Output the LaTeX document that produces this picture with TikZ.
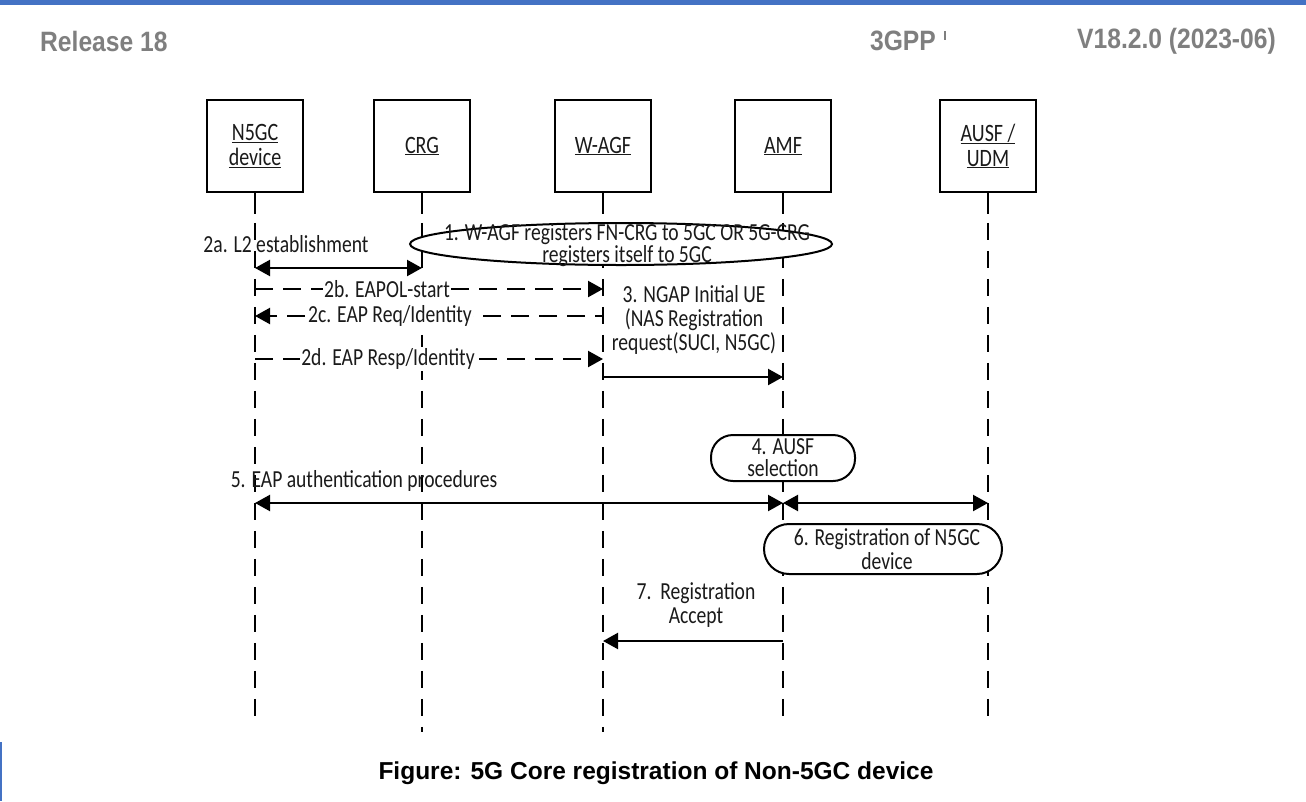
\documentclass[tikz,border=0pt]{standalone}
\usepackage{fontspec}
\setmainfont{Carlito}[FakeStretch=0.8]
\newfontfamily\hdrfont{Liberation Sans}[FakeStretch=0.88]
\newfontfamily\capfont{Liberation Sans}
\usetikzlibrary{arrows.meta,shapes.geometric}
\definecolor{hdrblue}{HTML}{4472C4}
\definecolor{hdrgray}{HTML}{7F7F7F}
\definecolor{inkgray}{HTML}{1A1A1A}
\begin{document}
\begin{tikzpicture}[x=1pt,y=-1pt,
  actor/.style={draw, line width=1.8pt, minimum width=96pt, minimum height=92pt,
    align=center, inner sep=0pt, text=inkgray, font=\fontsize{25}{25}\selectfont},
  solidlife/.style={line width=1.8pt},
  life/.style={line width=1.8pt, dash pattern=on 17pt off 11pt},
  tip/.tip={Triangle[length=15pt,width=16pt]},
  msg/.style={line width=2.2pt, -tip},
  dmsg/.style={line width=2.2pt, -tip, dash pattern=on 18pt off 10pt},
  bmsg/.style={line width=2.2pt, tip-tip},
  lbl/.style={font=\fontsize{24.5}{24}\selectfont, align=center, inner sep=0pt, text=inkgray},
  tight/.style={font=\fontsize{24.5}{22}\selectfont},
  onl/.style={lbl, fill=white, inner xsep=1pt, inner ysep=2pt},
  hdr/.style={font=\hdrfont\bfseries\fontsize{28}{30}\selectfont, text=hdrgray, inner sep=0pt},
  pill/.style={draw, line width=2pt, fill=white, rounded corners=22pt, inner sep=0pt},
]
\useasboundingbox (0,0) rectangle (1306,801);

% page header and margin marks
\fill[hdrblue] (0,0) rectangle (1306,5);
\fill[hdrblue] (0,742) rectangle (2,801);
\node[hdr, anchor=west] (rel) at (40,41) {Release 18};
\node[hdr, anchor=east] (gpp) at (936,41) {3GPP};
\draw[hdrgray, line width=1.5pt] (945,31) -- (945,40);
\node[hdr, anchor=east] (ver) at (1276,41) {V18.2.0 (2023-06)};

% participants
\node[actor] (n5gc) at (255,146) {\underline{N5GC}\\\underline{device}};
\node[actor] (crg)  at (422,146) {\underline{CRG}};
\node[actor] (wagf) at (603,146) {\underline{W-AGF}};
\node[actor] (amf)  at (783,146) {\underline{AMF}};
\node[actor] (ausf) at (988,146) {\underline{AUSF /}\\\underline{UDM}};

% lifeline ends
\coordinate (n5gc-end) at (255,716);
\coordinate (crg-end)  at (422,732);
\coordinate (wagf-end) at (603,732);
\coordinate (amf-end)  at (783,720);
\coordinate (ausf-end) at (988,720);

\foreach \p in {n5gc,crg,wagf,amf,ausf}{
  \draw[solidlife] (\p.south) -- ++(0,21);
  \draw[life] ([yshift=-30pt]\p.south) -- (\p-end);
}

% message end points on the lifelines
\coordinate (a2-l) at (255,268);  \coordinate (a2-r) at (422,268);
\coordinate (b2-l) at (255,289);  \coordinate (b2-r) at (603,289);
\coordinate (c2-l) at (255,316);  \coordinate (c2-r) at (603,316);
\coordinate (d2-l) at (255,359);  \coordinate (d2-r) at (603,359);
\coordinate (m3-l) at (603,377);  \coordinate (m3-r) at (783,377);
\coordinate (m5-l) at (255,503);  \coordinate (m5-r) at (783,503);
\coordinate (m5b-r) at (988,503);
\coordinate (m7-l) at (603,641);  \coordinate (m7-r) at (783,641);

% step 1
\coordinate (e1) at (621,244);
\draw[line width=2pt, fill=white] (e1) ellipse [x radius=211pt, y radius=21pt];
\node[lbl, tight] (s1) at (627,245) {1. W-AGF registers FN-CRG to 5GC OR 5G-CRG\\registers itself to 5GC};

% step 2
\node[lbl] (s2a) at (286,244) {2a. L2 establishment};
\draw[bmsg] (a2-l) -- (a2-r);
\draw[dmsg] (b2-l) -- (b2-r);
\node[onl] (s2b) at (387,289) {2b. EAPOL-start};
\draw[dmsg, dash phase=10pt] (c2-r) -- (c2-l);
\node[onl] (s2c) at (390,316) {2c. EAP Req/Identity};
\draw[dmsg] (d2-l) -- (d2-r);
\node[onl] (s2d) at (388,359) {2d. EAP Resp/Identity};

% step 3
\node[lbl] (s3) at (694,320) {3. NGAP Initial UE\\(NAS Registration\\request(SUCI, N5GC)};
\draw[msg] (m3-l) -- (m3-r);

% step 4
\node[pill, minimum width=144pt, minimum height=46pt] (s4) at (783,458) {};
\node[lbl, tight] (s4t) at (783,458) {4. AUSF\\selection};

% step 5
\node[lbl] (s5) at (364,481) {5. EAP authentication procedures};
\draw[bmsg] (m5-l) -- (m5-r);
\draw[bmsg] (m5-r) -- (m5b-r);

% step 6
\node[pill, minimum width=238pt, minimum height=50pt, rounded corners=25pt] (s6) at (883,549) {};
\node[lbl] (s6t) at (887,549) {6. Registration of N5GC\\device};

% step 7
\node[lbl] (s7) at (696,605) {7.\ \ Registration\\Accept};
\draw[msg] (m7-r) -- (m7-l);

% caption
\node[font=\capfont\bfseries\fontsize{24.5}{28}\selectfont, inner sep=0pt] (cap) at (656,773)
  {Figure: 5G Core registration of Non-5GC device};
\end{tikzpicture}
\end{document}
